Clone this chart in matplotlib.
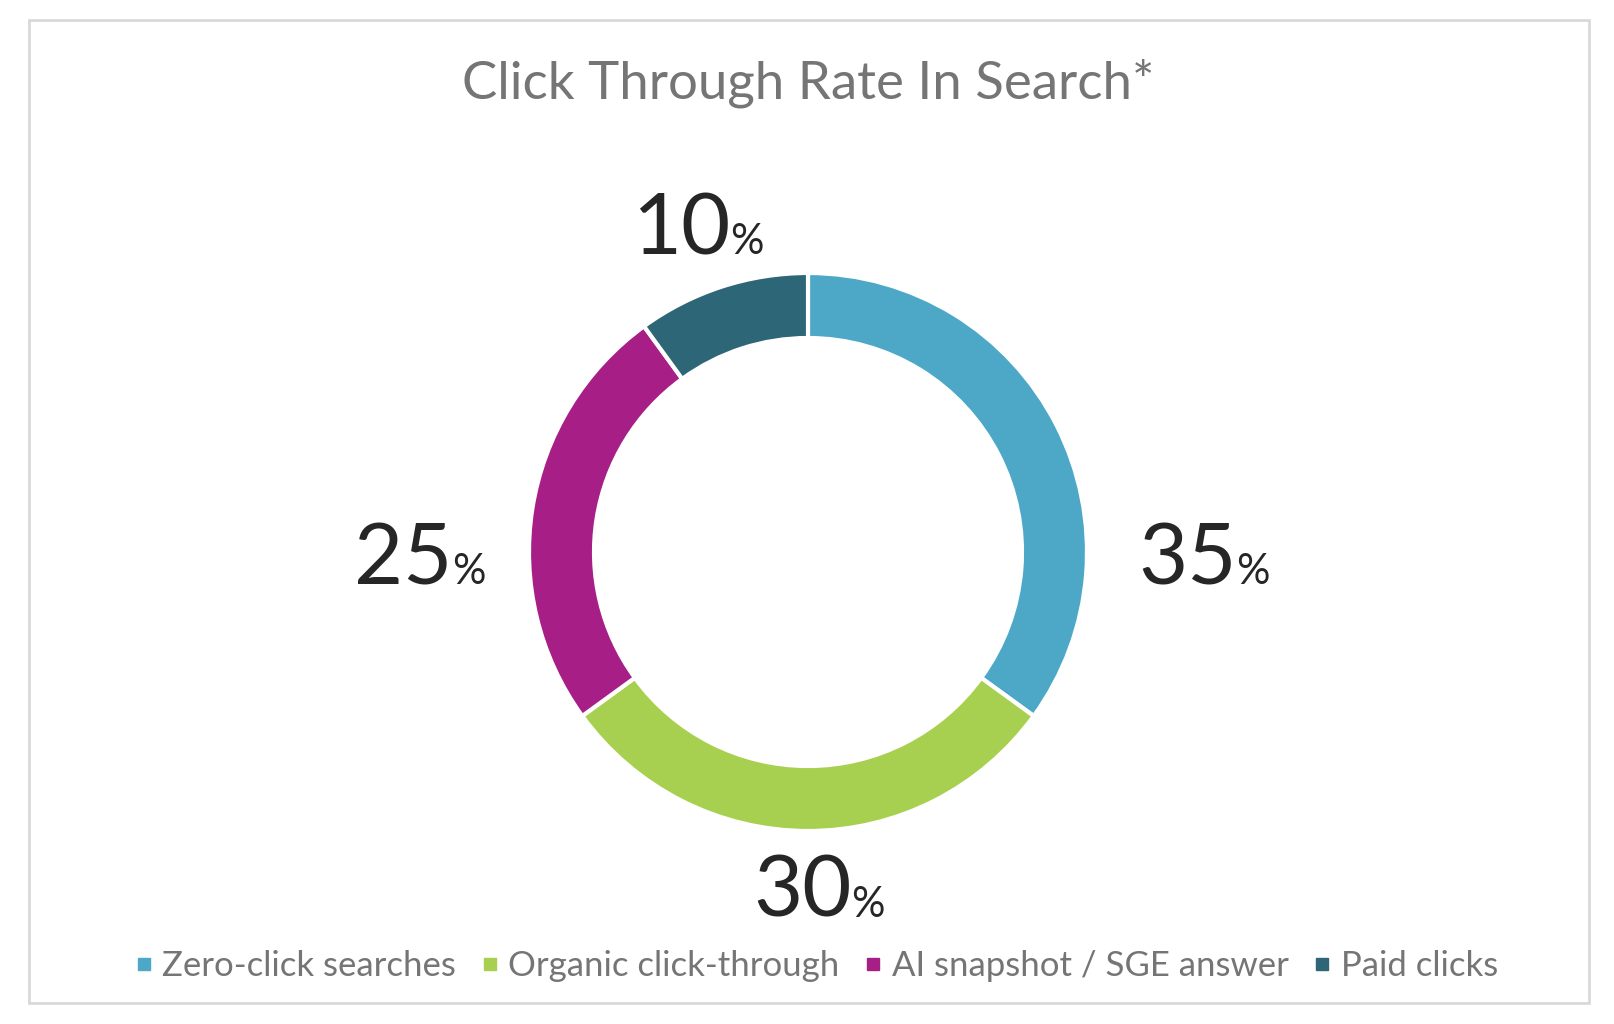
import matplotlib.pyplot as plt
from matplotlib.lines import Line2D
from matplotlib.patches import Rectangle

# data
categories = ['Zero-click searches', 'Organic click-through',
              'AI snapshot / SGE answer', 'Paid clicks']
shares = [35, 30, 25, 10]
colors = ['#4DA8C7', '#A8D050', '#A71F86', '#2C6677']
title = 'Click Through Rate In Search*'

W, H = 1614, 1024
plt.rcParams['font.family'] = ['Lato', 'DejaVu Sans']

fig = plt.figure(figsize=(W / 100, H / 100), dpi=100)
ax = fig.add_axes([0, 0, 1, 1])
ax.set_xlim(0, W)
ax.set_ylim(0, H)
ax.set_aspect('equal')
ax.axis('off')

# frame around the chart
ax.add_patch(Rectangle((29, H - 1003), 1560, 983, fill=False,
                       edgecolor='#D9D9D9', linewidth=2))

cx, cy, r = 808, H - 552, 279
ring = 65
ax.pie(shares, colors=colors, startangle=90, counterclock=False,
       center=(cx, cy), radius=r,
       wedgeprops=dict(width=ring, edgecolor='white', linewidth=3))
ax.set_xlim(0, W)
ax.set_ylim(0, H)

# label offsets (relative to center, in units of radius)
label_pos = [(1.535, -0.115), (0.155, -1.308), (-1.276, -0.115),
             (-0.28, 1.068)]
for val, (dx, dy) in zip(shares, label_pos):
    x, y = cx + dx * r, cy + dy * r
    ax.text(x, y, str(val), ha='right', va='baseline', fontsize=61,
            color='#262626')
    ax.text(x, y, '%', ha='left', va='baseline', fontsize=30,
            color='#262626')

ax.text(W / 2 + 1, H - 98, title, ha='center', va='baseline',
        fontsize=38, color='#757575')

handles = [Line2D([], [], marker='s', linestyle='none', markersize=9,
                  markerfacecolor=c, markeredgecolor=c) for c in colors]
leg = fig.legend(handles, categories, loc='center', ncol=4,
                 bbox_to_anchor=(817 / W, (H - 966) / H), frameon=False,
                 fontsize=25, handlelength=0.45, handletextpad=0.3,
                 columnspacing=0.75, labelcolor='#757575')

fig.savefig('out.png', dpi=100, facecolor='white')
